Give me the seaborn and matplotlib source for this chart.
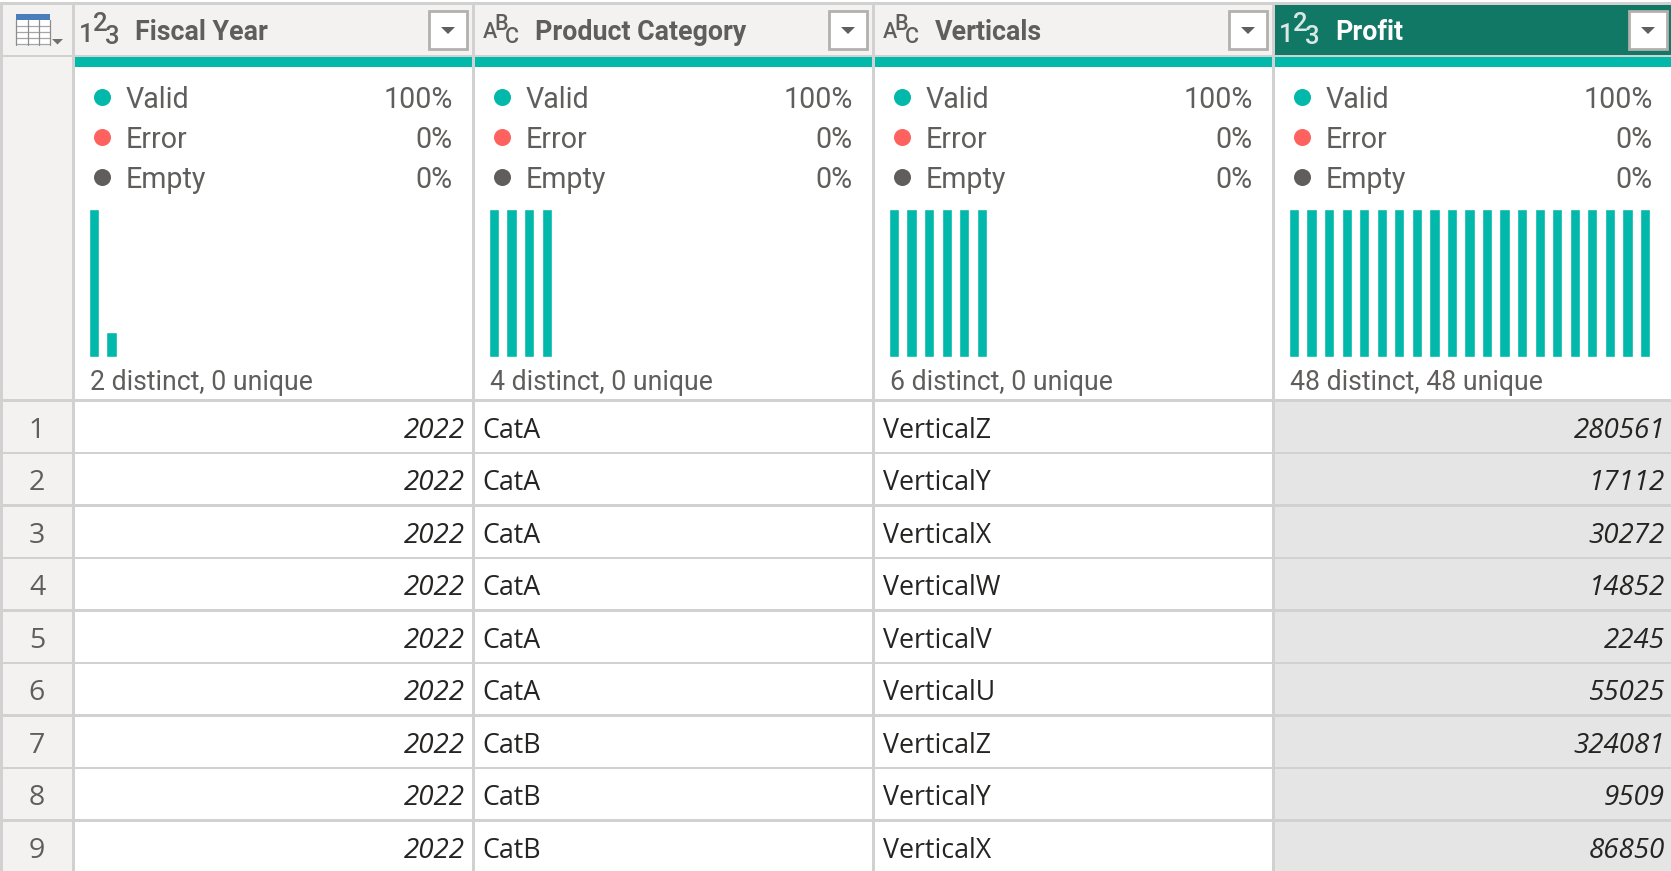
import matplotlib
matplotlib.use('Agg')
import matplotlib.pyplot as plt
from matplotlib.patches import Rectangle, Polygon
import seaborn as sns

# table contents
columns = ['Fiscal Year', 'Product Category', 'Verticals', 'Profit']
col_types = ['123', 'ABC', 'ABC', '123']
status_labels = ['Valid', 'Error', 'Empty']
status_pct = ['100%', '0%', '0%']
distinct_text = ['2 distinct, 0 unique', '4 distinct, 0 unique', '6 distinct, 0 unique', '48 distinct, 48 unique']

row_ids = [1, 2, 3, 4, 5, 6, 7, 8, 9]
fiscal_year = [2022, 2022, 2022, 2022, 2022, 2022, 2022, 2022, 2022]
product_category = ['CatA', 'CatA', 'CatA', 'CatA', 'CatA', 'CatA', 'CatB', 'CatB', 'CatB']
verticals = ['VerticalZ', 'VerticalY', 'VerticalX', 'VerticalW', 'VerticalV', 'VerticalU', 'VerticalZ', 'VerticalY', 'VerticalX']
profit = [280561, 17112, 30272, 14852, 2245, 55025, 324081, 9509, 86850]

# column distribution bars (row counts)
year_counts = [41, 7]
category_counts = [12, 12, 12, 12]
vertical_counts = [8, 8, 8, 8, 8, 8]
profit_counts = [1, 1, 1, 1, 1, 1, 1, 1, 1, 1, 1, 1, 1, 1, 1, 1, 1, 1, 1, 1, 1]
dist_counts = [year_counts, category_counts, vertical_counts, profit_counts]

TEAL = '#01B8AA'
RED = '#FD625E'
GREY_DOT = '#605E5C'
TEXT = '#605E5C'
CELL = '#252423'
HEAD_BG = '#F3F2F1'
SEP = '#D1D1D1'
DARK = '#117865'
SEL_BG = '#E5E5E5'

W, H = 1671, 871
COL_X = [75, 475, 875, 1275]
COL_W = 397
ROW_H = 52.5

sns.set_theme(style='white')
plt.rcParams['font.family'] = ['Open Sans', 'DejaVu Sans']
DIN = 'Roboto'

fig = plt.figure(figsize=(W / 100, H / 100), dpi=100, facecolor='white')
ax = fig.add_axes([0, 0, 1, 1])
ax.set_xlim(0, W)
ax.set_ylim(H, 0)
ax.axis('off')


def box(x0, y0, x1, y1, color, z=1):
    ax.add_patch(Rectangle((x0, y0), x1 - x0, y1 - y0, facecolor=color, edgecolor='none', zorder=z))


def type_icon(x, kind, color):
    # 123 / ABC with the stepped middle character
    if kind == '123':
        parts = [('1', 11.5, 35), ('2', 25, 24), ('3', 37, 37)]
        size = 18.5
    else:
        parts = [('A', 14.5, 32), ('B', 26.5, 24), ('C', 36.5, 37.5)]
        size = 15.5
    for ch, dx, y in parts:
        ax.text(x + dx, y, ch, family=DIN, fontweight='medium', fontsize=size, color=color, va='center', ha='center', zorder=4)


# grid background
box(0, 2, W, 4.7, SEP)
box(3, 5, 72, H, HEAD_BG)
box(72, 5, 75, H, SEP)
box(3, 55, W, 57, SEP)
box(0, 2, 3, H, SEP)

# index column icon
box(16, 14, 50, 45, 'white', z=2)
box(16, 14, 50, 20, '#4A7EBB', z=3)
for gy in [26, 32, 38.5, 44.5]:
    ax.plot([16, 50], [gy, gy], color='#A6A6A6', lw=0.9, zorder=3)
for gx in [16, 27.7, 39, 50]:
    ax.plot([gx, gx], [20, 45], color='#8C8C8C', lw=0.9, zorder=3)
ax.add_patch(Polygon([[52, 39], [63, 39], [57.5, 44.5]], facecolor='#707070', edgecolor='none', zorder=3))

for i, name in enumerate(columns):
    x = COL_X[i]
    selected = name == 'Profit'
    right = W if i == 3 else x + COL_W

    # header
    box(x, 5, right, 55, DARK if selected else HEAD_BG)
    type_icon(x, col_types[i], '#D9E8E5' if selected else TEXT)
    ax.text(x + 60, 32.5, name, family=DIN, fontsize=19.3, fontweight='bold',
            color='white' if selected else TEXT, va='center', ha='left', zorder=4)
    ax.add_patch(Rectangle((x + 354, 11), 38, 38, facecolor='white', edgecolor='#B3B0AD', lw=2, zorder=3))
    ax.add_patch(Polygon([[x + 366, 27], [x + 380, 27], [x + 373, 34]], facecolor='#605E5C', edgecolor='none', zorder=4))

    # quality bar and legend
    box(x, 57, right, 67, TEAL)
    for j, (lab, pct, c) in enumerate(zip(status_labels, status_pct, [TEAL, RED, GREY_DOT])):
        y = 97.5 + 40 * j
        ax.scatter([x + 27], [y], s=150, color=c, linewidths=0, zorder=4)
        ax.text(x + 51, y + 2.5, lab, family=DIN, fontsize=20.6, color=TEXT, va='center', ha='left', zorder=4)
        ax.text(x + 377.5, y + 2.5, pct, family=DIN, fontsize=20.6, color=TEXT, va='center', ha='right', zorder=4)

    ax.text(x + 15.5, 382.5, distinct_text[i], family=DIN, fontsize=19.2, color=TEXT, va='center', ha='left', zorder=4)

    # distribution bars
    bar_ax = fig.add_axes([(x + 10.25) / W, 1 - 357 / H, 368.5 / W, 148 / H])
    bar_ax.patch.set_alpha(0)
    counts = dist_counts[i]
    sns.barplot(x=[str(k) for k in range(len(counts))], y=counts, color=TEAL, saturation=1,
                width=10.2 / 17.55, ax=bar_ax)
    bar_ax.set_xlim(-0.5, 20.5)
    bar_ax.set_ylim(0, max(counts))
    bar_ax.axis('off')

    # column separators
    if i < 3:
        box(right, 5, right + 3, H, SEP)

# selected column shading
box(COL_X[3], 402, W, H, SEL_BG, z=0.5)

# rows
for k, rid in enumerate(row_ids):
    y = 430.5 + ROW_H * k
    box(0, 399 + ROW_H * k, W, 401.7 + ROW_H * k, SEP, z=2)
    ax.text(37, y, str(rid), fontsize=20.5, color=TEXT, va='center', ha='center', zorder=4)
    ax.text(COL_X[0] + 389.5, y, str(fiscal_year[k]), fontsize=20, style='italic', color=CELL, va='center', ha='right', zorder=4)
    ax.text(COL_X[1] + 7, y, product_category[k], fontsize=19.3, color=CELL, va='center', ha='left', zorder=4)
    ax.text(COL_X[2] + 8, y, verticals[k], fontsize=19.3, color=CELL, va='center', ha='left', zorder=4)
    ax.text(COL_X[3] + 390, y, str(profit[k]), fontsize=20, style='italic', color=CELL, va='center', ha='right', zorder=4)

fig.savefig('out.png', dpi=100)
